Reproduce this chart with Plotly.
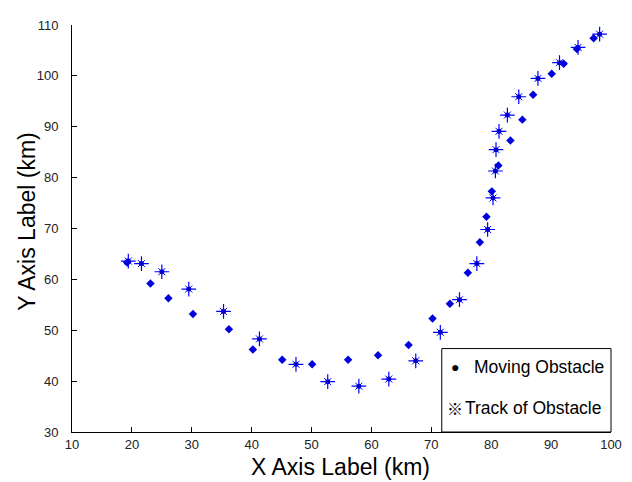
import plotly.graph_objects as go

# Track of Obstacle (star markers)
track_x = [19.4, 21.6, 25.0, 29.5, 35.3, 41.3, 47.4, 52.7, 57.9, 62.9, 67.4, 71.5, 74.7,
           77.6, 79.4, 80.3, 80.7, 80.8, 81.3, 82.7, 84.6, 87.8, 91.4, 94.5, 98.1]
track_y = [63.6, 63.1, 61.5, 58.1, 53.7, 48.3, 43.3, 39.9, 39.0, 40.4, 44.0, 49.6, 56.0,
           63.1, 69.8, 76.0, 81.3, 85.5, 89.1, 92.3, 95.9, 99.5, 102.6, 105.6, 108.2]

# Moving Obstacle (dot markers)
move_x = [19.2, 23.1, 26.1, 30.2, 36.2, 40.2, 45.1, 50.1, 56.1, 61.1, 66.2, 70.2, 73.1,
          76.1, 78.1, 79.2, 80.1, 81.2, 83.2, 85.2, 87.0, 90.1, 92.1, 94.3, 97.1]
move_y = [63.3, 59.2, 56.3, 53.2, 50.2, 46.2, 44.2, 43.3, 44.2, 45.1, 47.1, 52.3, 55.2,
          61.3, 67.3, 72.3, 77.3, 82.4, 87.3, 91.4, 96.3, 100.4, 102.4, 105.3, 107.4]

x_ticks = [10, 20, 30, 40, 50, 60, 70, 80, 90, 100]
y_ticks = [30, 40, 50, 60, 70, 80, 90, 100, 110]

legend_labels = ["Moving Obstacle", "Track of Obstacle"]
x_title = "X Axis Label (km)"
y_title = "Y Axis Label (km)"

BLUE = "#0000ff"
FONT = "Liberation Sans"

fig = go.Figure()
# star: plus arms, short lighter diagonals, filled centre
fig.add_trace(go.Scatter(
    x=track_x, y=track_y, mode="markers", showlegend=False, hoverinfo="skip",
    marker=dict(symbol="x-thin-open", size=7, color=BLUE,
                line=dict(color="rgba(90,90,230,0.75)", width=1))))
fig.add_trace(go.Scatter(
    x=track_x, y=track_y, mode="markers", showlegend=False,
    marker=dict(symbol="cross-thin-open", size=10.5, color=BLUE,
                line=dict(color="#1010e0", width=1.2))))
fig.add_trace(go.Scatter(
    x=track_x, y=track_y, mode="markers", showlegend=False, hoverinfo="skip",
    marker=dict(symbol="circle", size=5, color="#0000cc")))
fig.add_trace(go.Scatter(
    x=move_x, y=move_y, mode="markers", showlegend=False,
    marker=dict(symbol="diamond", size=6.5, color="#0000dd")))

axis_common = dict(
    showline=True, linecolor="black", linewidth=1, mirror=False,
    ticks="inside", ticklen=5, tickcolor="black", tickwidth=1,
    showgrid=False, zeroline=False,
    tickfont=dict(family=FONT, size=13, color="#222"),
)

# page body has an 8px margin, so the figure is sized/shifted to compensate
fig.update_layout(
    width=624, height=474,
    margin=dict(l=64, r=18, t=10, b=50),
    paper_bgcolor="white", plot_bgcolor="white",
    xaxis=dict(range=[10, 100], tickvals=x_ticks, ticktext=[str(v) for v in x_ticks],
               **axis_common),
    yaxis=dict(range=[30, 110], tickvals=y_ticks, ticktext=[str(v) for v in y_ticks],
               ticklabelstandoff=10, **axis_common),
)

fig.add_annotation(xref="paper", yref="paper", x=0.498, y=-0.087, text=x_title, showarrow=False,
                   font=dict(family=FONT, size=23, color="black"), xanchor="center", yanchor="middle")
fig.add_annotation(xref="paper", yref="paper", x=-0.085, y=0.517, text=y_title, showarrow=False,
                   textangle=-90,
                   font=dict(family=FONT, size=23, color="black"), xanchor="center", yanchor="middle")

# legend box (drawn manually to mimic the original)
fig.add_shape(type="rect", xref="paper", yref="paper", x0=0.686, x1=1.0, y0=0.0, y1=0.205,
              line=dict(color="black", width=1), fillcolor="white", layer="above")
fig.add_annotation(xref="paper", yref="paper", x=0.710, y=0.159, text="●", showarrow=False,
                   font=dict(family=FONT, size=14, color="black"), xanchor="center", yanchor="middle")
fig.add_annotation(xref="paper", yref="paper", x=0.743, y=0.159, text=legend_labels[0], showarrow=False,
                   font=dict(family=FONT, size=17.5, color="black"), xanchor="left", yanchor="middle")
fig.add_annotation(xref="paper", yref="paper", x=0.711, y=0.058, text="※", showarrow=False,
                   font=dict(family="Noto Sans CJK JP", size=16, color="black"), xanchor="center", yanchor="middle")
fig.add_annotation(xref="paper", yref="paper", x=0.726, y=0.058, text=legend_labels[1], showarrow=False,
                   font=dict(family=FONT, size=17.5, color="black"), xanchor="left", yanchor="middle")

fig.write_html("out.html")
